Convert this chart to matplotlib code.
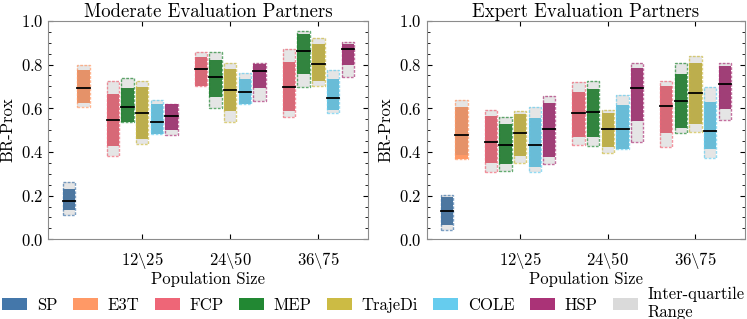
import numpy as np
import matplotlib
matplotlib.use('Agg')
import matplotlib.pyplot as plt
from matplotlib.patches import Rectangle, Patch
from matplotlib.ticker import MultipleLocator

plt.rcParams['font.family'] = 'serif'
plt.rcParams['font.serif'] = ['cmr10']
plt.rcParams['mathtext.fontset'] = 'cm'
plt.rcParams['axes.formatter.use_mathtext'] = True
plt.rcParams['font.size'] = 12

# algorithms and groups
baselines = ['SP', 'E3T']
methods = ['FCP', 'MEP', 'TrajeDi', 'COLE', 'HSP']
groups = [r'$12\backslash25$', r'$24\backslash50$', r'$36\backslash75$']
colors = {'SP': '#4477AA', 'E3T': '#FF9966', 'FCP': '#EE6677', 'MEP': '#228833',
          'TrajeDi': '#CCBB44', 'COLE': '#66CCEE', 'HSP': '#AA3377'}

# ---- Moderate evaluation partners ----
# baselines: SP, E3T
mod_base_med = [0.177, 0.692]
mod_base_lo = [0.133, 0.622]
mod_base_hi = [0.230, 0.774]
mod_base_q1 = [0.111, 0.604]
mod_base_q3 = [0.262, 0.800]
# methods x groups (12\25, 24\50, 36\75)
mod_med = [[0.544, 0.779, 0.695], [0.604, 0.741, 0.861], [0.579, 0.684, 0.803],
           [0.537, 0.673, 0.648], [0.566, 0.772, 0.869]]
mod_lo = [[0.427, 0.703, 0.588], [0.538, 0.652, 0.756], [0.459, 0.585, 0.723],
          [0.480, 0.617, 0.593], [0.502, 0.691, 0.797]]
mod_hi = [[0.663, 0.836, 0.812], [0.694, 0.820, 0.938], [0.695, 0.781, 0.892],
          [0.617, 0.734, 0.735], [0.617, 0.803, 0.896]]
mod_q1 = [[0.380, 0.703, 0.561], [0.535, 0.599, 0.698], [0.434, 0.536, 0.701],
          [0.480, 0.617, 0.578], [0.476, 0.635, 0.745]]
mod_q3 = [[0.726, 0.855, 0.869], [0.736, 0.855, 0.953], [0.724, 0.809, 0.919],
          [0.639, 0.759, 0.773], [0.619, 0.808, 0.901]]

# ---- Expert evaluation partners ----
exp_base_med = [0.128, 0.476]
exp_base_lo = [0.066, 0.366]
exp_base_hi = [0.195, 0.607]
exp_base_q1 = [0.043, 0.386]
exp_base_q3 = [0.202, 0.637]
exp_med = [[0.445, 0.578, 0.611], [0.433, 0.581, 0.633], [0.485, 0.503, 0.668],
           [0.431, 0.505, 0.494], [0.505, 0.691, 0.713]]
exp_lo = [[0.351, 0.470, 0.488], [0.345, 0.470, 0.508], [0.381, 0.424, 0.527],
          [0.332, 0.413, 0.413], [0.378, 0.541, 0.596]]
exp_hi = [[0.564, 0.675, 0.703], [0.530, 0.686, 0.756], [0.573, 0.579, 0.808],
          [0.556, 0.614, 0.627], [0.625, 0.782, 0.794]]
exp_q1 = [[0.309, 0.430, 0.421], [0.314, 0.425, 0.485], [0.351, 0.393, 0.489],
          [0.306, 0.413, 0.372], [0.343, 0.444, 0.547]]
exp_q3 = [[0.591, 0.721, 0.724], [0.558, 0.723, 0.805], [0.585, 0.590, 0.838],
          [0.604, 0.660, 0.698], [0.657, 0.809, 0.809]]

width = 0.14


def draw_box(ax, x, med, lo, hi, q1, q3, c):
    ax.add_patch(Rectangle((x - width/2, lo), width, hi - lo, facecolor=c,
                           edgecolor='none', zorder=2))
    ax.add_patch(Rectangle((x - width/2, q1), width, q3 - q1, facecolor='#787878',
                           alpha=0.19, edgecolor='none', zorder=3))
    bot, top = min(q1, lo), max(q3, hi)
    ax.add_patch(Rectangle((x - width/2, bot), width, top - bot, fill=False,
                           edgecolor=c, alpha=0.7, lw=1.0, ls=(0, (2, 1)), zorder=4))
    ax.plot([x - width/2, x + width/2], [med, med], c='k', lw=1.3, zorder=5)


def make_panel(ax, title, bmed, blo, bhi, bq1, bq3, med, lo, hi, q1, q3):
    for i, b in enumerate(baselines):
        x = 1 - (5 - i) / 6.
        draw_box(ax, x, bmed[i], blo[i], bhi[i], bq1[i], bq3[i], colors[b])
    for k, m in enumerate(methods):
        for g in range(len(groups)):
            x = g + 1 + (k - 2) / 6.
            draw_box(ax, x, med[k][g], lo[k][g], hi[k][g], q1[k][g], q3[k][g], colors[m])
    ax.set_xlim(-0.065, 3.56)
    ax.set_ylim(0, 1)
    ax.set_xticks([1, 2, 3])
    ax.set_xticklabels(groups)
    ax.yaxis.set_major_locator(MultipleLocator(0.2))
    ax.yaxis.set_minor_locator(MultipleLocator(0.05))
    ax.tick_params(which='both', direction='in', top=True, right=True)
    ax.tick_params(axis='x', which='minor', bottom=False, top=False)
    ax.tick_params(axis='x', pad=8)
    for s in ax.spines.values():
        s.set_color('0.55')
    ax.set_title(title, fontsize=13.5, pad=3)
    ax.set_ylabel('BR-Prox')
    ax.set_xlabel('Population Size', labelpad=0)


fig = plt.figure(figsize=(7.47, 3.19), dpi=100)
ax1 = fig.add_axes([0.0647, 0.2498, 0.4275, 0.685])
ax2 = fig.add_axes([0.5712, 0.2498, 0.4255, 0.685])

make_panel(ax1, 'Moderate Evaluation Partners', mod_base_med, mod_base_lo, mod_base_hi,
           mod_base_q1, mod_base_q3, mod_med, mod_lo, mod_hi, mod_q1, mod_q3)
make_panel(ax2, 'Expert Evaluation Partners', exp_base_med, exp_base_lo, exp_base_hi,
           exp_base_q1, exp_base_q3, exp_med, exp_lo, exp_hi, exp_q1, exp_q3)

handles = [Patch(facecolor=colors[a], label=a) for a in baselines + methods]
handles.append(Patch(facecolor='#dadada', label='Inter-quartile\nRange'))
fig.legend(handles=handles, loc='lower center', bbox_to_anchor=(0.5, -0.05), ncol=8,
           frameon=False, handlelength=1.5, handleheight=0.75, columnspacing=0.9,
           handletextpad=0.6, fontsize=12, labelspacing=0.2)

fig.savefig('out.png', dpi=100)
